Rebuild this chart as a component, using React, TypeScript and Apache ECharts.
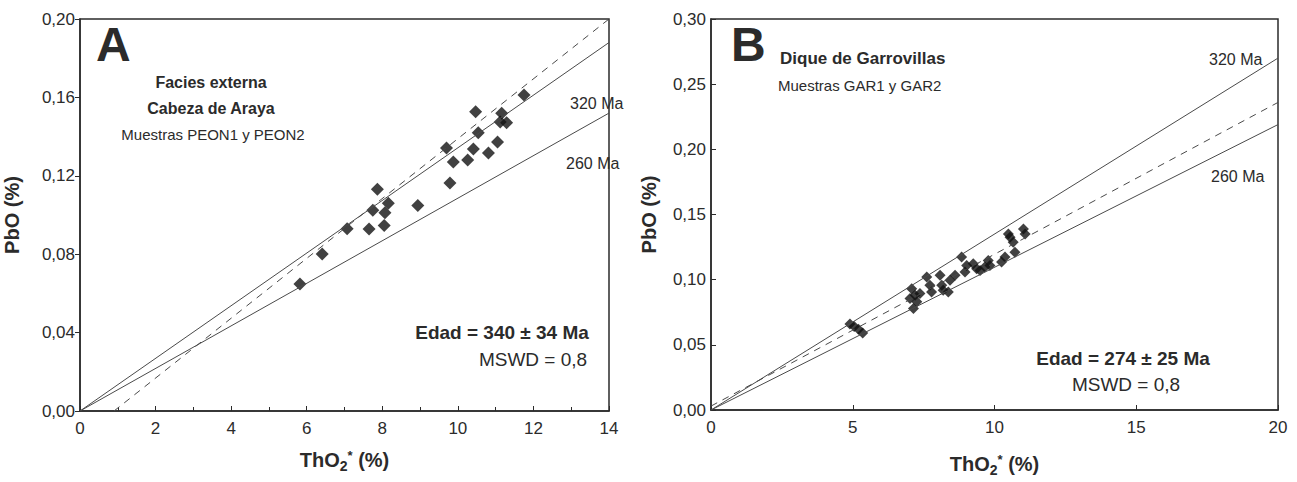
import React, { useEffect, useRef } from "react";
import * as echarts from "echarts";

// Panel A data (ThO2* %, PbO %)
const pointsA: number[][] = [
  [5.82, 0.0648], [6.41, 0.0801], [7.07, 0.093], [7.65, 0.0929], [7.75, 0.1024],
  [7.87, 0.1131], [8.05, 0.0946], [8.07, 0.1012], [8.16, 0.106], [8.94, 0.1048],
  [9.7, 0.1342], [9.79, 0.1163], [9.88, 0.127], [10.26, 0.1281], [10.41, 0.1337],
  [10.47, 0.1527], [10.54, 0.142], [10.81, 0.1316], [11.05, 0.1372], [11.16, 0.1519],
  [11.12, 0.1475], [11.29, 0.1471], [11.75, 0.1612],
];
// Panel B data
const pointsB: number[][] = [
  [4.9, 0.066], [5.05, 0.064], [5.2, 0.062], [5.35, 0.059],
  [7.08, 0.0931], [7.2, 0.088], [7.02, 0.0855], [7.26, 0.083], [7.14, 0.0779], [7.37, 0.0893],
  [7.61, 0.102], [7.72, 0.0957], [7.78, 0.0906], [8.08, 0.1033], [8.14, 0.0957],
  [8.19, 0.0919], [8.37, 0.0906], [8.43, 0.0995], [8.61, 0.1033], [8.84, 0.1173],
  [8.96, 0.1059], [9.02, 0.1109], [9.25, 0.1122], [9.37, 0.1084], [9.49, 0.1071],
  [9.66, 0.1097], [9.78, 0.1147], [9.84, 0.1109], [10.25, 0.1135], [10.37, 0.1173],
  [10.49, 0.1351], [10.55, 0.1326], [10.66, 0.1288], [10.72, 0.1211], [11.02, 0.1389],
  [11.08, 0.1351],
];
// Reference lines
const lineA320: number[][] = [[0, 0], [14, 0.188]];
const lineA260: number[][] = [[0, 0], [14, 0.152]];
const lineAFit: number[][] = [[0.9, 0], [14, 0.2]];
const lineB320: number[][] = [[0, 0], [20, 0.27]];
const lineB260: number[][] = [[0, 0], [20, 0.219]];
const lineBFit: number[][] = [[0, 0.003], [20, 0.236]];

const FONT = "'Liberation Sans', Arial, sans-serif";
const INK = "#2b2b2b";

export default function App() {
  const ref = useRef<HTMLDivElement>(null);
  useEffect(() => {
    document.body.style.margin = "0";
    const chart = echarts.init(ref.current!, null, { renderer: "svg" });
    const comma = (v: number) => v.toFixed(2).replace(".", ",");
    const xName = {
      rich: {
        b: { fontSize: 20, fontWeight: "bold", fontFamily: FONT, color: INK },
        sub: { fontSize: 14, fontWeight: "bold", fontFamily: FONT, color: INK, padding: [12, 0, 0, 0] },
        sup: { fontSize: 13, fontWeight: "bold", fontFamily: FONT, color: INK, padding: [0, 0, 9, 0] },
      },
    };
    const baseX = (max: number, interval: number, minor: boolean, gap: number) => ({
      type: "value",
      min: 0,
      max,
      interval,
      name: "{b|ThO}{sub|2}{sup|*}{b| (%)}",
      nameLocation: "middle",
      nameGap: gap,
      nameTextStyle: xName,
      axisLine: { show: true, lineStyle: { color: INK, width: 1.5 } },
      axisTick: { show: true, inside: true, length: 5, lineStyle: { color: INK } },
      minorTick: { show: minor, splitNumber: 2, length: 4, lineStyle: { color: INK } },
      axisLabel: { color: INK, fontSize: 17, fontFamily: FONT, margin: 9 },
      splitLine: { show: false },
    });
    const baseY = (max: number, interval: number, gap: number, inside: boolean) => ({
      type: "value",
      min: 0,
      max,
      interval,
      name: "PbO (%)",
      nameLocation: "middle",
      nameGap: gap,
      nameRotate: 90,
      nameTextStyle: { fontSize: 20, fontWeight: "bold", fontFamily: FONT, color: INK },
      axisLine: { show: true, lineStyle: { color: INK, width: 1.5 } },
      axisTick: { show: true, inside, length: 5, lineStyle: { color: INK } },
      minorTick: { show: false },
      axisLabel: { color: INK, fontSize: 17, fontFamily: FONT, margin: 5, formatter: comma },
      splitLine: { show: false },
    });
    const lineSeries = (data: number[][], xi: number, dashed: boolean) => ({
      type: "line",
      xAxisIndex: xi,
      yAxisIndex: xi,
      data,
      symbol: "none",
      silent: true,
      lineStyle: { color: "#4a4a4a", width: 1, type: dashed ? [7, 6] : "solid" },
    });
    const txt = (x: number, y: number, text: string, size: number, bold: boolean, align = "left") => ({
      type: "text",
      x,
      y,
      style: {
        text,
        fontSize: size,
        fontWeight: bold ? "bold" : "normal",
        fontFamily: FONT,
        fill: INK,
        textAlign: align,
        textVerticalAlign: "middle",
      },
    });
    chart.setOption({
      animation: false,
      grid: [
        { left: 80, top: 19, width: 529, height: 392, show: true, borderColor: INK, borderWidth: 1.5, backgroundColor: "#fff" },
        { left: 711, top: 19, width: 567, height: 393, show: true, borderColor: INK, borderWidth: 1.5, backgroundColor: "#fff" },
      ],
      xAxis: [
        { ...baseX(14, 2, true, 36), gridIndex: 0 },
        { ...baseX(20, 5, false, 41), gridIndex: 1 },
      ],
      yAxis: [
        { ...baseY(0.2, 0.04, 58, false), gridIndex: 0 },
        { ...baseY(0.3, 0.05, 52, true), gridIndex: 1 },
      ],
      series: [
        lineSeries(lineA320, 0, false),
        lineSeries(lineA260, 0, false),
        lineSeries(lineAFit, 0, true),
        lineSeries(lineB320, 1, false),
        lineSeries(lineB260, 1, false),
        lineSeries(lineBFit, 1, true),
        {
          type: "scatter", xAxisIndex: 0, yAxisIndex: 0, data: pointsA,
          symbol: "diamond", symbolSize: 13, itemStyle: { color: "#111" },
        },
        {
          type: "scatter", xAxisIndex: 1, yAxisIndex: 1, data: pointsB,
          symbol: "diamond", symbolSize: 11, itemStyle: { color: "#111" },
        },
      ],
      graphic: [
        txt(96, 44, "A", 48, true),
        txt(211, 82, "Facies externa", 16, true, "center"),
        txt(211, 108, "Cabeza de Araya", 16, true, "center"),
        txt(213, 134, "Muestras PEON1 y PEON2", 15, false, "center"),
        txt(570, 103, "320 Ma", 16, false),
        txt(566, 163, "260 Ma", 16, false),
        txt(502, 332, "Edad = 340 ± 34 Ma", 19, true, "center"),
        txt(533, 359, "MSWD = 0,8", 19, false, "center"),
        txt(731, 44, "B", 48, true),
        txt(780, 58, "Dique de Garrovillas", 17, true),
        txt(778, 85, "Muestras GAR1 y GAR2", 15, false),
        txt(1209, 59, "320 Ma", 16, false),
        txt(1211, 176, "260 Ma", 16, false),
        txt(1123, 358, "Edad = 274 ± 25 Ma", 19, true, "center"),
        txt(1126, 384, "MSWD = 0,8", 19, false, "center"),
      ],
    });
    return () => chart.dispose();
  }, []);
  return <div ref={ref} style={{ width: 1297, height: 482 }} />;
}
